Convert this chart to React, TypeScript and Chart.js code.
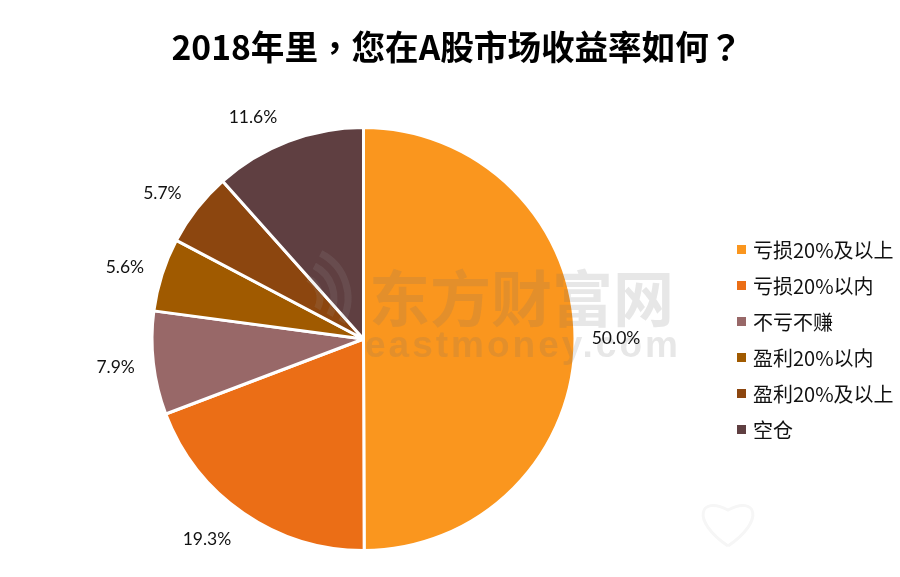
import { useEffect, useRef } from "react"
import { Chart, registerables, type ChartConfiguration, type Plugin } from "chart.js"

Chart.register(...registerables)

const titleText = "2018年里，您在A股市场收益率如何？"
const categories = ["亏损20%及以上", "亏损20%以内", "不亏不赚", "盈利20%以内", "盈利20%及以上", "空仓"]
const shares = [50.0, 19.3, 7.9, 5.6, 5.7, 11.6]
const colors = ["#FA961E", "#EB6E16", "#986868", "#A05A00", "#8C460F", "#5F3F41"]

// Small hand adjustments on top of the radial label position
const labelNudges = [
  [1, 0],
  [-14, -7],
  [2, 0],
  [1, 5],
  [-3, 9],
  [-21, 13],
]

const fontFamily = '"Noto Sans CJK SC", "Noto Sans", sans-serif'

// Site watermark lying over the chart
const watermark: Plugin<"pie"> = {
  id: "watermark",
  afterDatasetsDraw(chart) {
    const { ctx } = chart
    ctx.save()
    ctx.fillStyle = "rgba(110, 110, 110, 0.17)"
    ctx.strokeStyle = "rgba(170, 170, 170, 0.13)"
    ctx.textAlign = "left"
    ctx.textBaseline = "middle"
    ctx.font = `bold 61px ${fontFamily}`
    ctx.fillText("东方财富网", 369, 299)
    ctx.font = `bold 37px "Liberation Sans", sans-serif`
    ctx.letterSpacing = "3px"
    ctx.fillText("eastmoney.com", 365, 347)
    ctx.lineWidth = 7
    ;[22, 36, 50].forEach((r) => {
      ctx.beginPath()
      ctx.arc(298, 298, r, -1.1, 0.5)
      ctx.stroke()
    })
    // faint logo in the corner
    ctx.strokeStyle = "#f6f6f6"
    ctx.lineWidth = 3
    ctx.beginPath()
    ctx.moveTo(728, 546)
    ctx.bezierCurveTo(690, 520, 700, 495, 728, 510)
    ctx.bezierCurveTo(756, 495, 766, 520, 728, 546)
    ctx.stroke()
    ctx.restore()
  },
}

// Percent labels sit outside the pie, placed from the arc elements
const outsideLabels: Plugin<"pie"> = {
  id: "outsideLabels",
  afterDatasetsDraw(chart) {
    const { ctx } = chart
    ctx.save()
    ctx.font = "17.5px Lato, sans-serif"
    ctx.fillStyle = "#111"
    ctx.textAlign = "center"
    ctx.textBaseline = "middle"
    chart.getDatasetMeta(0).data.forEach((el: any, i) => {
      const mid = (el.startAngle + el.endAngle) / 2
      const r = el.outerRadius + 40
      const [dx, dy] = labelNudges[i]
      ctx.fillText(`${shares[i].toFixed(1)}%`, el.x + Math.cos(mid) * r + dx, el.y + Math.sin(mid) * r + dy)
    })
    ctx.restore()
  },
}

export default function App() {
  const canvasRef = useRef<HTMLCanvasElement>(null)

  useEffect(() => {
    if (!canvasRef.current) return

    const config: ChartConfiguration<"pie"> = {
      type: "pie",
      data: {
        labels: categories,
        datasets: [
          {
            data: shares,
            backgroundColor: colors,
            borderColor: "#fff",
            borderWidth: 3,
            hoverOffset: 0,
          },
        ],
      },
      options: {
        responsive: false,
        animation: false,
        layout: { padding: { left: 8, right: 181, top: 126, bottom: 25 } },
        plugins: {
          legend: { display: false },
          tooltip: { enabled: false },
          title: { display: false },
        },
      },
      plugins: [watermark, outsideLabels],
    }

    const chart = new Chart(canvasRef.current, config)
    return () => chart.destroy()
  }, [])

  return (
    <div style={{ position: "absolute", left: 0, top: 0, width: 900, height: 577, background: "#fff", overflow: "hidden" }}>
      <canvas ref={canvasRef} width={900} height={577} style={{ display: "block" }} />
      <div
        style={{
          position: "absolute",
          left: 0,
          width: 914,
          top: 22,
          textAlign: "center",
          fontFamily: '"Noto Sans CJK TC", "Noto Sans CJK SC", sans-serif',
          fontWeight: "bold",
          fontSize: 33.6,
          lineHeight: "48px",
          color: "#000",
          whiteSpace: "nowrap",
        }}
      >
        {titleText}
      </div>
      {categories.map((name, i) => (
        <div
          key={name}
          style={{
            position: "absolute",
            left: 737,
            top: 249.5 + i * 35.9 - 15,
            height: 30,
            display: "flex",
            alignItems: "center",
            whiteSpace: "nowrap",
            fontFamily,
            fontSize: 20,
            color: "#111",
          }}
        >
          <span style={{ width: 9, height: 9, background: colors[i], marginRight: 7 }} />
          {name}
        </div>
      ))}
    </div>
  )
}
